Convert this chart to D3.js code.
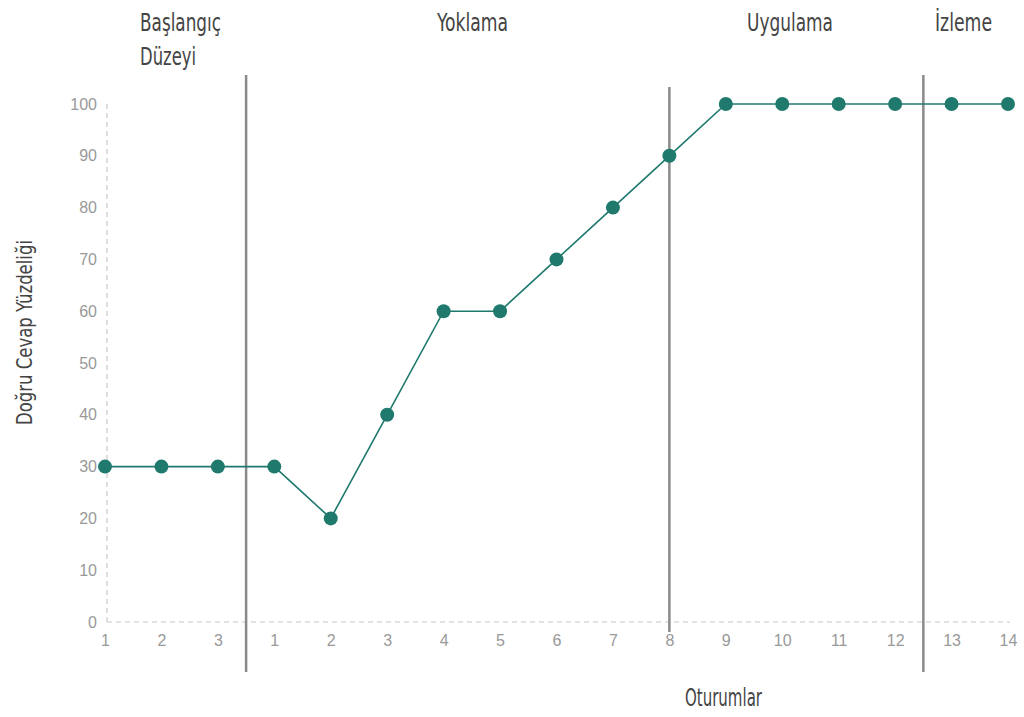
<!DOCTYPE html>
<html><head><meta charset="utf-8">
<script src="https://cdn.jsdelivr.net/npm/d3@7"></script>
<style>body{margin:0;background:#fff}svg{display:block}</style>
</head><body>
<script>
const sessionLabels = ["1","2","3","1","2","3","4","5","6","7","8","9","10","11","12","13","14"];
const values = [30,30,30,30,20,40,60,60,70,80,90,100,100,100,100,100,100];
const yTicks = [0,10,20,30,40,50,60,70,80,90,100];
const phases = ["Başlangıç|Düzeyi","Yoklama","Uygulama","İzleme"];
const phaseBreaks = [2.5, 10, 14.5];

const W = 1024, H = 717;
const svg = d3.select("body").append("svg").attr("width", W).attr("height", H);
const x = d3.scaleLinear().domain([0, 16]).range([105, 1008]);
const y = d3.scaleLinear().domain([0, 100]).range([622, 104]);
const teal = "#1f7a6d";
const condensed = "'Liberation Sans Narrow','DejaVu Sans Condensed','DejaVu Sans',sans-serif";
const tickFont = "'Liberation Sans', Arial, sans-serif";

// axes (dashed)
svg.append("line").attr("x1", 107).attr("x2", 107).attr("y1", y(100)).attr("y2", y(0))
  .attr("stroke", "#c8c8c8").attr("stroke-width", 1.2).attr("stroke-dasharray", "5,4");
svg.append("line").attr("x1", 107).attr("x2", 1010).attr("y1", y(0)).attr("y2", y(0))
  .attr("stroke", "#c8c8c8").attr("stroke-width", 1.2).attr("stroke-dasharray", "5,4");

// y tick labels
const yAxis = d3.axisLeft(y).tickValues(yTicks).tickSize(0).tickPadding(0);
const gy = svg.append("g").attr("transform", "translate(97,0)").call(yAxis);
gy.select(".domain").remove();
gy.selectAll("text").attr("fill", "#999").style("font-family", tickFont).style("font-size", "16px");

// x tick labels
const xAxis = d3.axisBottom(x).tickValues(d3.range(sessionLabels.length)).tickFormat(i => sessionLabels[i]).tickSize(0).tickPadding(0);
const gx = svg.append("g").attr("transform", "translate(0,635)").call(xAxis);
gx.select(".domain").remove();
gx.selectAll("text").attr("fill", "#999").style("font-family", tickFont).style("font-size", "16px");

// phase lines
const lineSpans = [[75, 672], [87, 632], [75, 672]];
phaseBreaks.forEach((b, i) => {
  svg.append("line").attr("x1", x(b)).attr("x2", x(b)).attr("y1", lineSpans[i][0]).attr("y2", lineSpans[i][1])
    .attr("stroke", "#8a8a8a").attr("stroke-width", 2.5);
});

// data line
svg.append("path").datum(values)
  .attr("d", d3.line().x((d, i) => x(i)).y(d => y(d)))
  .attr("fill", "none").attr("stroke", teal).attr("stroke-width", 1.6);
svg.selectAll("circle.pt").data(values).enter().append("circle").attr("class", "pt")
  .attr("cx", (d, i) => x(i)).attr("cy", d => y(d)).attr("r", 7).attr("fill", teal);

// phase labels
const phaseLayout = [
  {x: 140, lines: [[31, 81], [65, 56]]},
  {x: 437, lines: [[31, 71]]},
  {x: 747, lines: [[31, 86]]},
  {x: 935, lines: [[31, 57]]}
];
phases.forEach((p, i) => {
  const parts = p.split("|");
  parts.forEach((t, j) => {
    svg.append("text").attr("x", phaseLayout[i].x).attr("y", phaseLayout[i].lines[j][0])
      .attr("textLength", phaseLayout[i].lines[j][1]).attr("lengthAdjust", "spacingAndGlyphs")
      .attr("fill", "#444").style("font-family", condensed).style("font-size", "25px").text(t);
  });
});

// axis titles
svg.append("text").attr("x", 685).attr("y", 706).attr("textLength", 77).attr("lengthAdjust", "spacingAndGlyphs")
  .attr("fill", "#444").style("font-family", condensed).style("font-size", "24px").text("Oturumlar");
svg.append("text").attr("transform", "translate(32,425) rotate(-90)")
  .attr("textLength", 185).attr("lengthAdjust", "spacingAndGlyphs")
  .attr("fill", "#444").style("font-family", condensed).style("font-size", "22px").text("Doğru Cevap Yüzdeliği");
</script>
</body></html>
